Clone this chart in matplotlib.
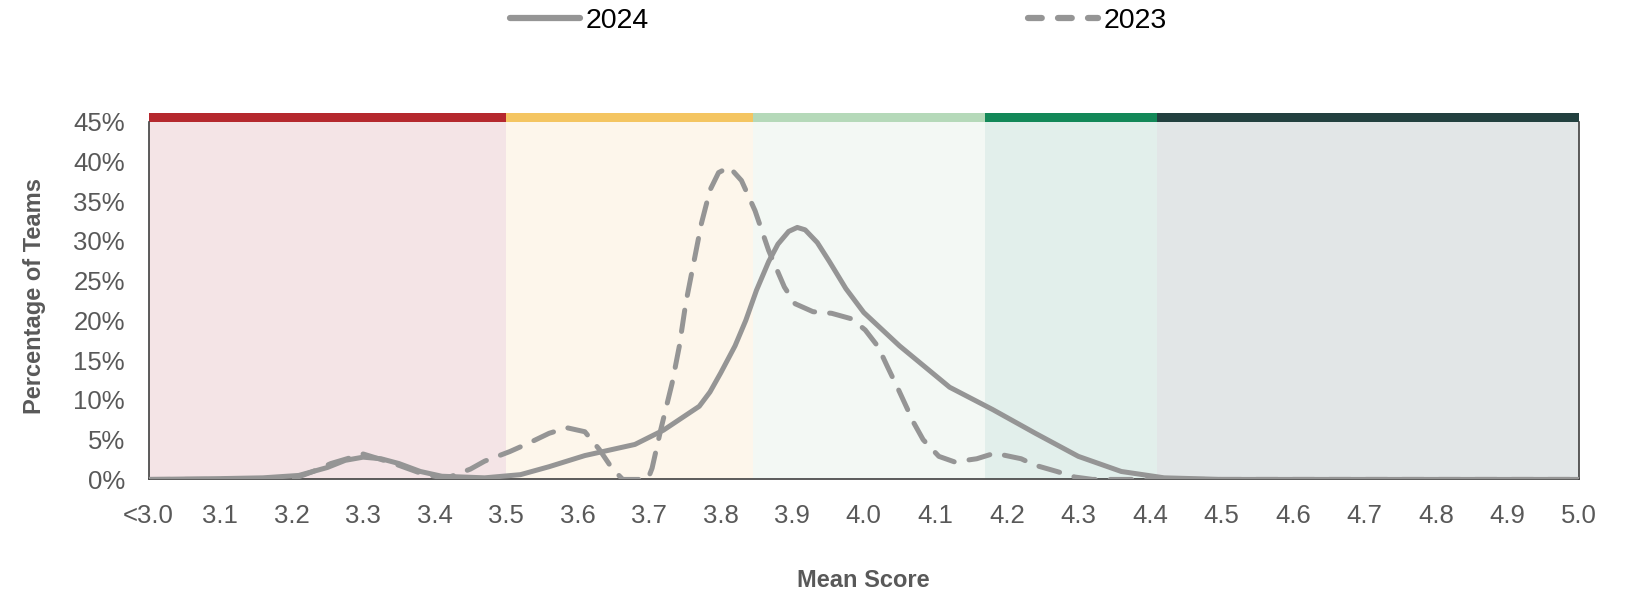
import matplotlib
matplotlib.use('Agg')
import matplotlib.pyplot as plt
from matplotlib.lines import Line2D

plt.rcParams['font.family'] = ['Liberation Sans', 'DejaVu Sans']

# 2024 distribution (mean score, % of teams)
x_2024 = [3.00, 3.10, 3.16, 3.21, 3.25, 3.275, 3.30, 3.325, 3.35, 3.38, 3.41, 3.47,
          3.52, 3.56, 3.61, 3.68, 3.72, 3.77, 3.785, 3.80, 3.82, 3.835, 3.85, 3.867,
          3.88, 3.895, 3.907, 3.918, 3.935, 3.952, 3.975, 4.00, 4.05, 4.12, 4.18,
          4.24, 4.30, 4.36, 4.42, 4.50, 5.00]
y_2024 = [0.0, 0.1, 0.2, 0.5, 1.5, 2.4, 2.8, 2.6, 2.0, 1.0, 0.4, 0.2,
          0.6, 1.6, 3.0, 4.4, 6.2, 9.2, 11.0, 13.4, 16.8, 20.0, 23.8, 27.4,
          29.6, 31.2, 31.7, 31.4, 29.8, 27.4, 24.0, 21.0, 16.8, 11.6, 8.8,
          5.8, 2.9, 1.0, 0.2, 0.0, 0.0]

# 2023 distribution
x_2023 = [3.00, 3.20, 3.23, 3.255, 3.30, 3.34, 3.38, 3.415, 3.45, 3.47, 3.505, 3.53,
          3.56, 3.585, 3.61, 3.63, 3.648, 3.663, 3.698, 3.704, 3.716, 3.732, 3.742,
          3.751, 3.761, 3.773, 3.785, 3.797, 3.812, 3.829, 3.848, 3.867, 3.889,
          3.904, 3.929, 3.955, 3.983, 4.002, 4.02, 4.033, 4.049, 4.07, 4.083,
          4.105, 4.127, 4.158, 4.183, 4.22, 4.239, 4.27, 4.295, 4.32, 5.00]
y_2023 = [0.0, 0.0, 1.0, 2.0, 3.2, 2.1, 0.8, 0.1, 1.3, 2.3, 3.5, 4.5,
          5.8, 6.5, 6.0, 3.8, 1.4, 0.0, 0.0, 1.4, 6.2, 12.1, 16.7,
          22.1, 26.7, 32.2, 36.4, 38.6, 39.3, 37.6, 33.8, 28.8, 24.2,
          22.1, 21.1, 20.9, 20.2, 18.8, 16.7, 14.2, 11.2, 7.1, 5.0,
          2.9, 2.2, 2.6, 3.3, 2.6, 1.8, 1.0, 0.3, 0.0, 0.0]

# score bands
band_edges = [3.0, 3.5, 3.845, 4.17, 4.41, 5.0]
band_colors = ['#B5282E', '#F4C561', '#B5D9B9', '#138858', '#22403F']
band_tints = ['#F4E4E6', '#FDF6EB', '#F3F8F4', '#E2EFEB', '#E2E6E7']

xticks = [round(3.0 + 0.1 * i, 1) for i in range(21)]
xlabels = ['<3.0'] + ['%.1f' % v for v in xticks[1:]]
yticks = [0, 5, 10, 15, 20, 25, 30, 35, 40, 45]

fig = plt.figure(figsize=(16.27, 5.94), dpi=100)
ax = fig.add_axes([0.0913, 0.1929, 0.8792, 0.6169])

for i in range(len(band_colors)):
    ax.axvspan(band_edges[i], band_edges[i + 1], ymin=0, ymax=45 / 46.1,
               color=band_tints[i], lw=0, zorder=0)
    ax.axvspan(band_edges[i], band_edges[i + 1], ymin=45 / 46.1, ymax=1,
               color=band_colors[i], lw=0, zorder=0)

line_col = '#959595'
ax.plot(x_2024, y_2024, color=line_col, lw=3.6, solid_capstyle='round',
        solid_joinstyle='round', zorder=3)
ax.plot(x_2023, y_2023, color=line_col, lw=3.6, dashes=(4.3, 3.0),
        dash_capstyle='round', dash_joinstyle='round', zorder=3)

ax.set_xlim(3.0, 5.0)
ax.set_ylim(0, 46.1)
ax.set_xticks(xticks)
ax.set_xticklabels(xlabels)
ax.set_yticks(yticks)
ax.set_yticklabels(['%d%%' % v for v in yticks])
ax.tick_params(axis='both', length=0, labelsize=18.5, labelcolor='#595959')
ax.tick_params(axis='x', pad=18)
ax.tick_params(axis='y', pad=17)

for s in ['left', 'right', 'bottom']:
    ax.spines[s].set_color('#404040')
    ax.spines[s].set_linewidth(1.2)
    ax.spines[s].set_zorder(2)
ax.spines['left'].set_bounds(0, 45)
ax.spines['right'].set_bounds(0, 45)
ax.spines['top'].set_visible(False)

ax.set_xlabel('Mean Score', fontsize=17, fontweight='bold', color='#595959',
              labelpad=29)
ax.set_ylabel('Percentage of Teams', fontsize=17, fontweight='bold',
              color='#595959', labelpad=20)

handles = [Line2D([], [], color=line_col, lw=4.5, solid_capstyle='round'),
           Line2D([], [], color=line_col, lw=4.5, dashes=(2.2, 2.6),
                  dash_capstyle='round')]
fig.legend(handles, ['2024', '2023'], loc='center', ncol=2,
           bbox_to_anchor=(838.5 / 1627, 1 - 21 / 594), frameon=False,
           fontsize=20.5, handlelength=2.45, handletextpad=0.2,
           columnspacing=13.3)

fig.savefig('out.png', dpi=100)
